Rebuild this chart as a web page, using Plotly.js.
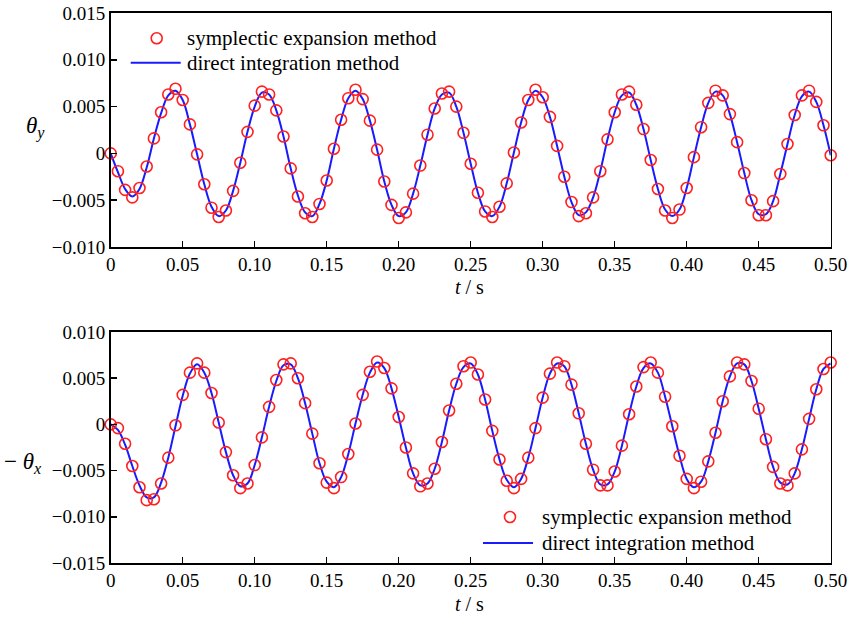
<!DOCTYPE html>
<html>
<head>
<meta charset="utf-8">
<script src="https://cdn.plot.ly/plotly-3.0.1.min.js"></script>
<style>html,body{margin:0;padding:0;background:#fff;}#chart{width:848px;height:618px;}</style>
</head>
<body>
<div id="chart"></div>
<script>
// time axis, s (sampling every 0.005 s)
const timeS = [0,0.005,0.01,0.015,0.02,0.025,0.03,0.035,0.04,0.045,
0.05,0.055,0.06,0.065,0.07,0.075,0.08,0.085,0.09,0.095,
0.10,0.105,0.11,0.115,0.12,0.125,0.13,0.135,0.14,0.145,
0.15,0.155,0.16,0.165,0.17,0.175,0.18,0.185,0.19,0.195,
0.20,0.205,0.21,0.215,0.22,0.225,0.23,0.235,0.24,0.245,
0.25,0.255,0.26,0.265,0.27,0.275,0.28,0.285,0.29,0.295,
0.30,0.305,0.31,0.315,0.32,0.325,0.33,0.335,0.34,0.345,
0.35,0.355,0.36,0.365,0.37,0.375,0.38,0.385,0.39,0.395,
0.40,0.405,0.41,0.415,0.42,0.425,0.43,0.435,0.44,0.445,
0.45,0.455,0.46,0.465,0.47,0.475,0.48,0.485,0.49,0.495,0.50];

// theta_y : symplectic expansion method (circles)
const thetaYSymplectic = [0,-0.0019,-0.0039,-0.0047,-0.0037,-0.0014,0.0016,0.0044,0.0063,0.0069,
0.0057,0.0031,-0.0001,-0.0033,-0.0058,-0.0068,-0.0061,-0.0040,-0.0010,0.0023,
0.0051,0.0066,0.0063,0.0046,0.0018,-0.0016,-0.0046,-0.0064,-0.0068,-0.0054,
-0.0029,0.0005,0.0036,0.0059,0.0068,0.0058,0.0035,0.0004,-0.0030,-0.0055,
-0.0069,-0.0063,-0.0043,-0.0013,0.0020,0.0048,0.0064,0.0066,0.0050,0.0022,
-0.0011,-0.0042,-0.0062,-0.0068,-0.0057,-0.0032,0.0001,0.0033,0.0057,0.0068,
0.0060,0.0039,0.0008,-0.0025,-0.0052,-0.0067,-0.0064,-0.0047,-0.0019,0.0015,
0.0044,0.0063,0.0066,0.0052,0.0026,-0.0007,-0.0038,-0.0061,-0.0069,-0.0060,
-0.0037,-0.0004,0.0028,0.0054,0.0067,0.0062,0.0042,0.0012,-0.0021,-0.0050,
-0.0066,-0.0066,-0.0051,-0.0022,0.0010,0.0041,0.0062,0.0067,0.0055,0.0030,-0.0002];

// theta_y : direct integration method (line)
const thetaYDirect = [0,-0.0020,-0.0038,-0.0046,-0.0038,-0.0015,0.0016,0.0043,0.0062,0.0067,
0.0057,0.0031,-0.0001,-0.0033,-0.0057,-0.0067,-0.0061,-0.0040,-0.0010,0.0023,
0.0050,0.0065,0.0063,0.0046,0.0018,-0.0016,-0.0045,-0.0063,-0.0067,-0.0054,
-0.0029,0.0005,0.0036,0.0059,0.0067,0.0058,0.0035,0.0004,-0.0030,-0.0055,
-0.0067,-0.0063,-0.0043,-0.0013,0.0020,0.0048,0.0063,0.0065,0.0050,0.0022,
-0.0011,-0.0042,-0.0062,-0.0067,-0.0057,-0.0032,0.0001,0.0033,0.0057,0.0067,
0.0060,0.0039,0.0008,-0.0025,-0.0052,-0.0066,-0.0063,-0.0047,-0.0019,0.0015,
0.0044,0.0062,0.0065,0.0052,0.0026,-0.0007,-0.0038,-0.0060,-0.0067,-0.0060,
-0.0037,-0.0004,0.0028,0.0054,0.0066,0.0062,0.0042,0.0012,-0.0021,-0.0050,
-0.0065,-0.0065,-0.0051,-0.0022,0.0010,0.0041,0.0061,0.0066,0.0055,0.0030,-0.0002];

// -theta_x : symplectic expansion method (circles)
const negThetaXSymplectic = [0,-0.0004,-0.0021,-0.0045,-0.0068,-0.0082,-0.0081,-0.0064,-0.0036,-0.0001,
0.0032,0.0056,0.0066,0.0056,0.0034,0.0002,-0.0030,-0.0055,-0.0069,-0.0064,
-0.0044,-0.0014,0.0019,0.0048,0.0065,0.0066,0.0050,0.0023,-0.0010,-0.0042,
-0.0063,-0.0069,-0.0057,-0.0032,0.0001,0.0032,0.0057,0.0068,0.0061,0.0039,
0.0008,-0.0025,-0.0053,-0.0067,-0.0064,-0.0048,-0.0019,0.0015,0.0044,0.0063,
0.0067,0.0054,0.0027,-0.0007,-0.0038,-0.0061,-0.0069,-0.0059,-0.0036,-0.0004,
0.0029,0.0055,0.0067,0.0063,0.0043,0.0012,-0.0021,-0.0049,-0.0066,-0.0066,
-0.0051,-0.0023,0.0011,0.0041,0.0062,0.0067,0.0056,0.0030,-0.0002,-0.0034,
-0.0059,-0.0069,-0.0062,-0.0040,-0.0009,0.0025,0.0052,0.0067,0.0065,0.0047,
0.0017,-0.0016,-0.0046,-0.0064,-0.0066,-0.0053,-0.0027,0.0006,0.0038,0.0060,0.0067];

// -theta_x : direct integration method (line)
const negThetaXDirect = [0,-0.0006,-0.0022,-0.0045,-0.0066,-0.0079,-0.0079,-0.0063,-0.0036,-0.0002,
0.0031,0.0055,0.0065,0.0056,0.0034,0.0002,-0.0030,-0.0055,-0.0067,-0.0064,
-0.0044,-0.0014,0.0019,0.0047,0.0064,0.0065,0.0050,0.0023,-0.0010,-0.0042,
-0.0062,-0.0068,-0.0057,-0.0032,0.0001,0.0032,0.0056,0.0067,0.0061,0.0039,
0.0008,-0.0025,-0.0053,-0.0066,-0.0064,-0.0048,-0.0019,0.0015,0.0044,0.0062,
0.0066,0.0054,0.0027,-0.0007,-0.0038,-0.0060,-0.0068,-0.0059,-0.0036,-0.0004,
0.0029,0.0055,0.0066,0.0063,0.0043,0.0012,-0.0021,-0.0049,-0.0065,-0.0065,
-0.0051,-0.0023,0.0011,0.0041,0.0061,0.0066,0.0056,0.0030,-0.0002,-0.0034,
-0.0059,-0.0068,-0.0062,-0.0040,-0.0009,0.0025,0.0052,0.0066,0.0065,0.0047,
0.0017,-0.0016,-0.0046,-0.0063,-0.0065,-0.0053,-0.0027,0.0006,0.0038,0.0060,0.0066];

// tick labels
const xTickVals = [0,0.05,0.10,0.15,0.20,0.25,0.30,0.35,0.40,0.45,0.50];
const xTickText = ["0","0.05","0.10","0.15","0.20","0.25","0.30","0.35","0.40","0.45","0.50"];
const yTopTickVals = [-0.010,-0.005,0,0.005,0.010,0.015];
const yTopTickText = ["\u22120.010","\u22120.005","0","0.005","0.010","0.015"];
const yBotTickVals = [-0.015,-0.010,-0.005,0,0.005,0.010];
const yBotTickText = ["\u22120.015","\u22120.010","\u22120.005","0","0.005","0.010"];

const seriesNames = ["symplectic expansion method","direct integration method"];

const W = 848, H = 618;
const px = x => x / W;
const py = y => 1 - y / H;
const FONT = "Times New Roman, Liberation Serif, DejaVu Serif, Noto Serif, serif";
const RED = "#ff2020", BLUE = "#1a1aff";
const EPS = 1e-7;

function circles(y, xa, ya) {
  return {x: timeS, y: y, xaxis: xa, yaxis: ya, type: "scatter", mode: "markers",
    name: seriesNames[0], cliponaxis: false, showlegend: false,
    marker: {symbol: "circle-open", size: 11, color: RED, line: {width: 1.6, color: RED}}};
}
function curve(y, xa, ya) {
  return {x: timeS, y: y, xaxis: xa, yaxis: ya, type: "scatter", mode: "lines",
    name: seriesNames[1], showlegend: false,
    line: {color: BLUE, width: 2, shape: "spline", smoothing: 1}};
}

const data = [
  curve(thetaYDirect, "x", "y"),
  circles(thetaYSymplectic, "x", "y"),
  curve(negThetaXDirect, "x2", "y2"),
  circles(negThetaXSymplectic, "x2", "y2")
];

const axisCommon = {
  showline: true, mirror: true, linecolor: "#000", linewidth: 1.6,
  ticks: "inside", ticklen: 6, tickwidth: 1.5, tickcolor: "#000",
  showgrid: false, zeroline: false, automargin: false,
  ticklabeloverflow: "allow",
  tickfont: {family: FONT, size: 19, color: "#000"}
};
const xd = [px(110.7), px(830.7)];

const layout = {
  width: W, height: H,
  margin: {l: 0, r: 0, t: 0, b: 0},
  paper_bgcolor: "#fff", plot_bgcolor: "#fff",
  showlegend: false,
  font: {family: FONT, size: 19, color: "#000"},
  xaxis: Object.assign({}, axisCommon, {domain: xd, range: [-EPS, 0.5 + EPS], tickmode: "array",
    tickvals: xTickVals, ticktext: xTickText, anchor: "y"}),
  yaxis: Object.assign({}, axisCommon, {domain: [py(247), py(13)], range: [-0.010 - EPS, 0.015 + EPS],
    tickmode: "array", tickvals: yTopTickVals, ticktext: yTopTickText, anchor: "x"}),
  xaxis2: Object.assign({}, axisCommon, {domain: xd, range: [-EPS, 0.5 + EPS], tickmode: "array",
    tickvals: xTickVals, ticktext: xTickText, anchor: "y2"}),
  yaxis2: Object.assign({}, axisCommon, {domain: [py(563), py(332)], range: [-0.015 - EPS, 0.010 + EPS],
    tickmode: "array", tickvals: yBotTickVals, ticktext: yBotTickText, anchor: "x2"}),
  shapes: [
    {type: "circle", xref: "paper", yref: "paper",
     x0: px(151.2), x1: px(162.2), y0: py(43.8), y1: py(32.8),
     line: {color: RED, width: 1.6}},
    {type: "line", xref: "paper", yref: "paper",
     x0: px(130.7), x1: px(180.7), y0: py(62.7), y1: py(62.7),
     line: {color: BLUE, width: 2}},
    {type: "circle", xref: "paper", yref: "paper",
     x0: px(504.5), x1: px(515.5), y0: py(522.5), y1: py(511.5),
     line: {color: RED, width: 1.6}},
    {type: "line", xref: "paper", yref: "paper",
     x0: px(483), x1: px(533), y0: py(543), y1: py(543),
     line: {color: BLUE, width: 2}}
  ],
  annotations: [
    {xref: "paper", yref: "paper", x: px(185), y: py(38), xanchor: "left", yanchor: "middle",
     text: seriesNames[0], showarrow: false, font: {family: FONT, size: 21}},
    {xref: "paper", yref: "paper", x: px(185), y: py(63), xanchor: "left", yanchor: "middle",
     text: seriesNames[1], showarrow: false, font: {family: FONT, size: 21}},
    {xref: "paper", yref: "paper", x: px(540), y: py(517), xanchor: "left", yanchor: "middle",
     text: seriesNames[0], showarrow: false, font: {family: FONT, size: 21}},
    {xref: "paper", yref: "paper", x: px(540), y: py(543), xanchor: "left", yanchor: "middle",
     text: seriesNames[1], showarrow: false, font: {family: FONT, size: 21}},
    {xref: "paper", yref: "paper", x: px(470), y: py(287), xanchor: "center", yanchor: "middle",
     text: "<i>t</i> / s", showarrow: false, font: {family: FONT, size: 20}},
    {xref: "paper", yref: "paper", x: px(470), y: py(604), xanchor: "center", yanchor: "middle",
     text: "<i>t</i> / s", showarrow: false, font: {family: FONT, size: 20}},
    {xref: "paper", yref: "paper", x: px(35), y: py(127), xanchor: "center", yanchor: "middle",
     text: "<i>\u03b8</i><sub><i>y</i></sub>", showarrow: false, font: {family: FONT, size: 23}},
    {xref: "paper", yref: "paper", x: px(23), y: py(463), xanchor: "center", yanchor: "middle",
     text: "\u2212 <i>\u03b8</i><sub><i>x</i></sub>", showarrow: false, font: {family: FONT, size: 23}}
  ]
};

Plotly.newPlot("chart", data, layout, {staticPlot: true, displayModeBar: false});
</script>
</body>
</html>
